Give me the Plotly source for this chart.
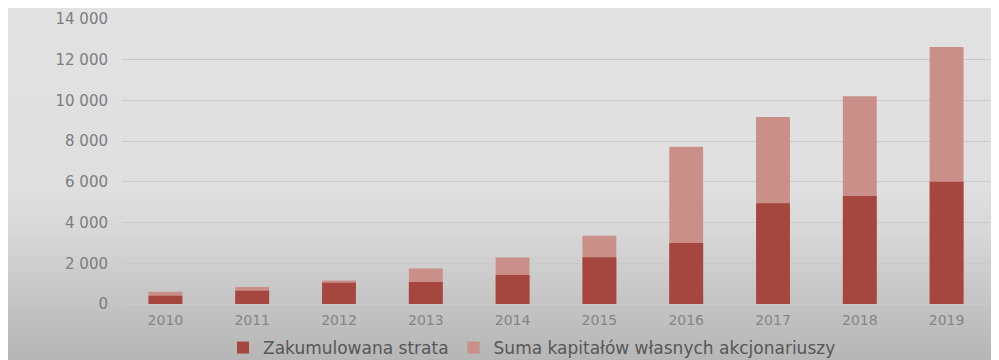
import plotly.graph_objects as go

years = ["2010", "2011", "2012", "2013", "2014", "2015", "2016", "2017", "2018", "2019"]
strata = [400, 650, 1050, 1080, 1420, 2300, 3000, 4950, 5300, 6000]
kapital = [600, 830, 1150, 1750, 2280, 3350, 7720, 9180, 10200, 12620]

name_strata = "Zakumulowana strata"
name_kapital = "Suma kapitałów własnych akcjonariuszy"

# the page body has an 8px margin, so the figure is drawn 8px right/down
OFF = 8
W, H = 999 - OFF, 360 - OFF
L, R, T, B = 122 - OFF, 9, 19 - OFF, 56
pw, ph = W - L - R, H - T - B

fig = go.Figure()
fig.add_trace(go.Bar(x=years, y=kapital, name=name_kapital, width=0.39,
                     marker=dict(color="#c98f88", line=dict(width=0))))
fig.add_trace(go.Bar(x=years, y=strata, name=name_strata, width=0.39,
                     marker=dict(color="#a5473e", line=dict(width=0))))

# gradient background via thin strips (stops in screenshot pixels)
stops = [(0, 226), (190, 223), (230, 216), (270, 205), (310, 194), (360, 182)]
def gray_at(py):
    for (y0, c0), (y1, c1) in zip(stops, stops[1:]):
        if y0 <= py <= y1:
            return c0 + (c1 - c0) * (py - y0) / (y1 - y0)
    return stops[-1][1]

shapes = []
step = 3
py = 0
while py < H:
    c = int(round(gray_at(py + OFF + step / 2)))
    shapes.append(dict(type="rect", xref="paper", yref="paper", layer="below",
                       x0=(0 - L) / pw, x1=(W - L) / pw,
                       y0=(H - B - (py + step + 0.5)) / ph, y1=(H - B - py) / ph,
                       fillcolor=f"rgb({c},{c},{c})", line=dict(width=0)))
    py += step

fig.update_layout(
    width=W, height=H,
    margin=dict(l=L, r=R, t=T, b=B, autoexpand=False),
    paper_bgcolor="white",
    plot_bgcolor="rgba(0,0,0,0)",
    barmode="overlay",
    separators=", ",
    font=dict(family="DejaVu Sans, Arial", color="#858585"),
    shapes=shapes,
    legend=dict(orientation="h", x=(524 - L) / pw, xanchor="center",
                yref="container", y=(H - (348 - OFF)) / H, yanchor="middle",
                traceorder="reversed", font=dict(size=17, color="#575757"),
                bgcolor="rgba(0,0,0,0)", itemwidth=30),
    showlegend=True,
)
fig.update_xaxes(showgrid=False, showline=False, zeroline=False, automargin=False,
                 tickfont=dict(size=14, color="#858585"), ticklabelstandoff=6,
                 range=[-0.5, 9.5])
fig.update_yaxes(range=[0, 14000], dtick=2000, tickformat=",d", automargin=False,
                 showgrid=True, gridcolor="#c9c9c9", gridwidth=1,
                 zeroline=True, zerolinecolor="#c9c9c9", zerolinewidth=1,
                 showline=False, tickfont=dict(size=15, color="#7d7d7d"),
                 ticklabelstandoff=13)

fig.write_html("out.html")
